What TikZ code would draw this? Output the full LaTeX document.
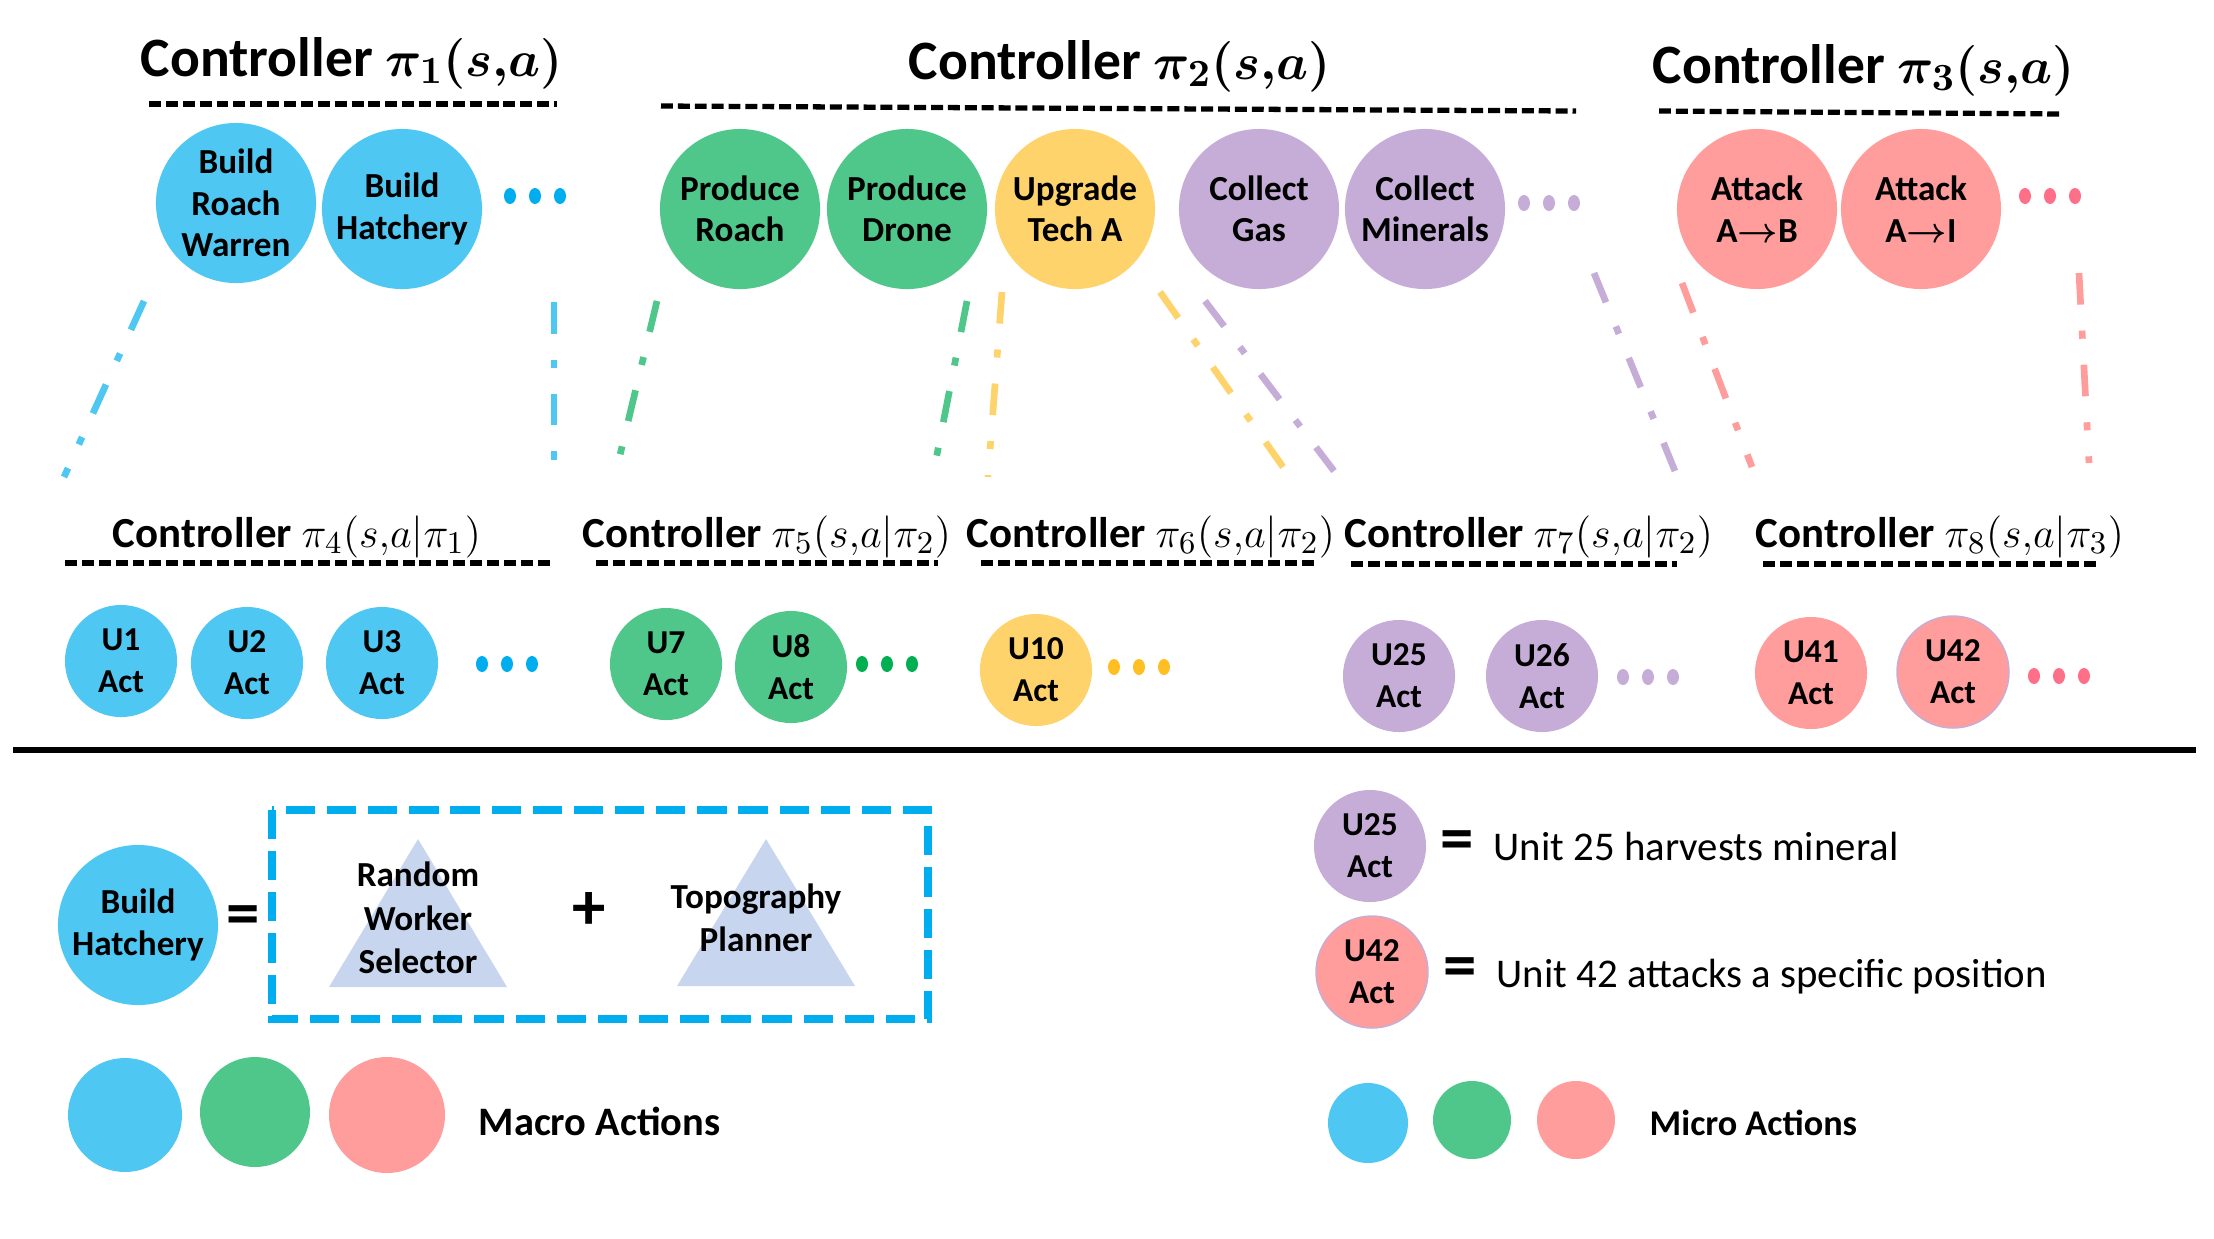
\documentclass[tikz,border=0pt]{standalone}
\usepackage{fontspec}
\setmainfont{Carlito}
\usepackage{amsmath}
\usepackage{tikz}
\definecolor{macroblue}{HTML}{4EC7F3}
\definecolor{macrogreen}{HTML}{4FC68A}
\definecolor{macroyellow}{HTML}{FFD36B}
\definecolor{macropurple}{HTML}{C5ADD8}
\definecolor{macropink}{HTML}{FF9C9C}
\definecolor{dotblue}{HTML}{00AEEF}
\definecolor{dotgreen}{HTML}{00B050}
\definecolor{dotyellow}{HTML}{FFBF22}
\definecolor{dotpink}{HTML}{FF6F88}
\definecolor{trifill}{HTML}{C8D5EE}
\newcommand{\actdots}[3]{%
  \foreach \k in {0,1,2} \fill[#3] ({#1+25*\k},#2) ellipse (6 and 8);}

\begin{document}
\begin{tikzpicture}[x=0.01cm, y=-0.01cm,
  act/.style={circle, inner sep=0pt, align=center, minimum size=1.6cm,
    font=\bfseries\boldmath\fontsize{10}{11.8}\selectfont},
  unit/.style={circle, inner sep=0pt, align=center, minimum size=1.12cm,
    font=\bfseries\fontsize{9.5}{12}\selectfont},
  toptitle/.style={anchor=base, font=\bfseries\boldmath\fontsize{15.8}{18}\selectfont},
  subtitle/.style={anchor=base, font=\bfseries\fontsize{12.2}{14}\selectfont},
  underline/.style={line width=1.5pt, dash pattern=on 3.4pt off 1.4pt},
  link/.style={line width=1.9pt, dash pattern=on 9pt off 7.4pt on 2.3pt off 7.4pt},
  sign/.style={font=\bfseries\fontsize{19}{20}\selectfont, inner sep=0pt},
  note/.style={anchor=base west, font=\fontsize{11.6}{14}\selectfont, inner sep=0pt},
  keytext/.style={align=center, font=\bfseries\fontsize{10}{12.3}\selectfont}]
\useasboundingbox (0,0) rectangle (2214,1238);
% Top level controllers
\node[toptitle] (t1) at (352,76) {Controller $\pi_1(s{,}a)$};
\node[toptitle] (t2) at (1120,79) {Controller $\pi_2(s{,}a)$};
\node[toptitle] (t3) at (1864,83) {Controller $\pi_3(s{,}a)$};
\draw[underline] (149,104) -- (557,104);
\draw[underline] (661,106) -- (1576,111);
\draw[underline] (1659,111) -- (2063,114);
% Macro actions
\node[act, fill=macroblue] (brw) at (236,203) {Build\\Roach\\Warren};
\node[act, fill=macroblue] (bh) at (402,209) {Build\\Hatchery};
\node[act, fill=macrogreen] (pr) at (740,209) {Produce\\Roach};
\node[act, fill=macrogreen] (pd) at (907,209) {Produce\\Drone};
\node[act, fill=macroyellow] (ut) at (1075,209) {Upgrade\\Tech A};
\node[act, fill=macropurple] (cg) at (1259,209) {Collect\\Gas};
\node[act, fill=macropurple] (cm) at (1425,209) {Collect\\Minerals};
\node[act, fill=macropink] (aab) at (1757,209) {Attack\\A$\rightarrow$B};
\node[act, fill=macropink] (aai) at (1921,209) {Attack\\A$\rightarrow$I};
\actdots{510}{196}{dotblue}
\actdots{1524}{203}{macropurple}
\actdots{2025}{196}{dotpink}
% Links down to the sub controllers
\foreach \i/\xa/\ya/\xb/\yb/\c in {1/144/301/64/477/macroblue,
    2/554/302/554/484/macroblue, 3/657/301/620/455/macrogreen,
    4/967/301/932/480/macrogreen, 5/1002/292/988/477/macroyellow,
    6/1160/292/1283/467/macroyellow, 7/1205/301/1334/471/macropurple,
    8/1594/273/1675/471/macropurple, 9/1682/283/1752/467/macropink,
    10/2079/273/2089/463/macropink} {
  \coordinate (s\i) at (\xa,\ya);
  \coordinate (e\i) at (\xb,\yb);
  \draw[link, \c] (s\i) -- (e\i);
}
% Sub controllers
\node[subtitle] (t4) at (297,547) {Controller $\pi_4(s{,}a|\pi_1)$};
\node[subtitle] (t5) at (767,547) {Controller $\pi_5(s{,}a|\pi_2)$};
\node[subtitle] (t6) at (1151,547) {Controller $\pi_6(s{,}a|\pi_2)$};
\node[subtitle] (t7) at (1529,547) {Controller $\pi_7(s{,}a|\pi_2)$};
\node[subtitle] (t8) at (1940,547) {Controller $\pi_8(s{,}a|\pi_3)$};
\draw[underline] (65,563) -- (553,563);
\draw[underline] (596,563) -- (938,563);
\draw[underline] (981,563) -- (1316,563);
\draw[underline] (1351,564) -- (1677,564);
\draw[underline] (1763,564) -- (2100,564);
% Unit actions
\node[unit, fill=macroblue] (u1) at (121,661) {U1\\Act};
\node[unit, fill=macroblue] (u2) at (247,663) {U2\\Act};
\node[unit, fill=macroblue] (u3) at (382,663) {U3\\Act};
\node[unit, fill=macrogreen] (u7) at (666,664) {U7\\Act};
\node[unit, fill=macrogreen] (u8) at (791,667) {U8\\Act};
\node[unit, fill=macroyellow] (u10) at (1036,670) {U10\\Act};
\node[unit, fill=macropurple] (u25) at (1399,676) {U25\\Act};
\node[unit, fill=macropurple] (u26) at (1542,676) {U26\\Act};
\node[unit, fill=macropink] (u41) at (1811,673) {U41\\Act};
\node[unit, fill=macropink, draw=macropurple, thin] (u42) at (1953,672) {U42\\Act};
\actdots{482}{664}{dotblue}
\actdots{862}{664}{dotgreen}
\actdots{1114}{667}{dotyellow}
\actdots{1623}{677}{macropurple}
\actdots{2034}{676}{dotpink}
% Separator
\draw[line width=1.7pt] (13,750) -- (2196,750);
% Legend: one macro action
\node[act, fill=macroblue] (bhl) at (138,925) {Build\\Hatchery};
\node[sign] (eq1) at (243,921) {=};
\draw[dotblue, line width=2.3pt, dash pattern=on 8.3pt off 3.4pt] (272,810) rectangle (928,1019);
\fill[trifill] (329,987) -- (507,987) -- (418,839) -- cycle;
\fill[trifill] (677,986) -- (855,986) -- (766,839) -- cycle;
\node[keytext] (rws) at (418,918) {Random\\Worker\\Selector};
\node[sign] (plus) at (589,911) {+};
\node[keytext] (tp) at (756,918) {Topography\\Planner};
% Legend: macro colours
\fill[macroblue] (125,1115) circle (57);
\fill[macrogreen] (255,1112) circle (55);
\fill[macropink] (387,1115) circle (58);
\node[anchor=base west, inner sep=0pt, font=\bfseries\fontsize{11.5}{14}\selectfont] (macro) at (478,1135) {Macro Actions};
% Legend: unit actions
\node[unit, fill=macropurple] (u25l) at (1370,846) {U25\\Act};
\node[sign] (eq2) at (1457,846) {=};
\node[note] (n25) at (1493,860) {Unit 25 harvests mineral};
\node[unit, fill=macropink, draw=macropurple, thin] (u42l) at (1372,972) {U42\\Act};
\node[sign] (eq3) at (1460,973) {=};
\node[note] (n42) at (1496,987) {Unit 42 attacks a specific position};
% Legend: micro colours
\fill[macroblue] (1368,1123) circle (40);
\fill[macrogreen] (1472,1120) circle (39);
\fill[macropink] (1576,1120) circle (39);
\node[anchor=base west, inner sep=0pt, font=\bfseries\fontsize{10.3}{12}\selectfont] (micro) at (1649,1135) {Micro Actions};
\end{tikzpicture}
\end{document}
